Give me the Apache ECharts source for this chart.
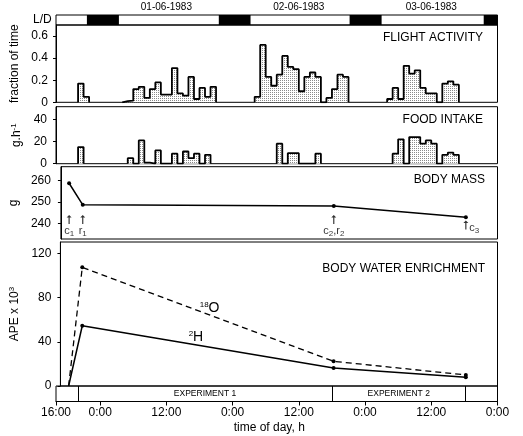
<!DOCTYPE html>
<html><head><meta charset="utf-8">
<script src="https://cdn.jsdelivr.net/npm/echarts@6/dist/echarts.min.js"></script>
<style>html,body{margin:0;padding:0;background:#fff}#c{width:523px;height:436px}</style>
</head><body><div id="c"></div>
<script>
const FONT = '"Liberation Sans", Arial, Helvetica, sans-serif';
// x = hours since 0:00 on 31-05-1983
const xTicks = [16, 24, 36, 48, 60, 72, 84, 96];
const dayTicks = [24, 48, 72];
const dayLabelPos = [36, 60, 84];
const dayLabels = ['01-06-1983', '02-06-1983', '03-06-1983'];
const darkPeriods = [[21.6, 27.4], [45.5, 51.25], [69.2, 75.0], [93.5, 96]];

const flightTicks = [0, 0.2, 0.4, 0.6];
const flightStarts = [20, 28, 52, 76];
const flightRuns = [
  [0.17, 0.05],
  [0.01, 0.015, 0.12, 0.14, 0.04, 0.12, 0.18, 0.07, 0.07, 0.31, 0.08, 0.06, 0.23, 0.03, 0.13, 0.05, 0.14],
  [0.05, 0.52, 0.23, 0.15, 0.25, 0.42, 0.32, 0.30, 0.10, 0.23, 0.27, 0.23, 0, 0.04, 0.12, 0.25, 0.23],
  [0.03, 0.13, 0.03, 0.33, 0.26, 0.29, 0.13, 0.08, 0.08, 0, 0.17, 0.19, 0.16]
];

const foodTicks = [0, 20, 40];
const foodStarts = [20, 29, 56, 77];
const foodRuns = [
  [15],
  [5, 0, 21, 1, 0, 12, 0, 0, 9, 0, 11, 5, 9, 0, 8],
  [18, 0, 9.5, 9.5, 0, 0, 0, 9],
  [9, 22, 0, 24, 24, 18, 21, 18, 0, 8, 10, 8]
];

const massTicks = [240, 250, 260];
const massTimes = [17.5, 20, 66, 90.2];
const massValues = [258.6, 248.6, 248, 242.8];
const massMarkLabels = ['c{s|1}', 'r{s|1}', 'c{s|2},r{s|2}', 'c{s|3}'];
const massMarkY = [241.8, 241.8, 241.8, 239.2];

const waterTicks = [0, 40, 80, 120];
const waterTimes = [17.5, 20, 66, 90.2];
const o18Values = [0, 107.3, 22.3, 10];
const h2Values = [0, 54.5, 16.3, 7.9];
const o18LabelPos = [43.3, 70.5];
const h2LabelPos = [40.8, 44.3];

const expBounds = [[20, 66], [66, 90.2]];
const expLabels = ['EXPERIMENT 1', 'EXPERIMENT 2'];

function stepData(starts, runs) {
  const d = [];
  starts.forEach((s, i) => {
    d.push([s, 0]);
    runs[i].forEach((v, j) => d.push([s + j, v]));
    d.push([s + runs[i].length, 0]);
    d.push([s + runs[i].length, '-']);
  });
  return d;
}

const pat = document.createElement('canvas');
pat.width = 2; pat.height = 2;
const pc = pat.getContext('2d');
pc.fillStyle = '#fff'; pc.fillRect(0, 0, 2, 2);
pc.fillStyle = '#8a8a8a'; pc.fillRect(0, 0, 1, 1);
const fillPattern = { image: pat, repeat: 'repeat' };

const L = 56, R = 25.5;
const gridBase = { left: L, right: R, show: true, borderColor: '#000', borderWidth: 1 };
const tops = [[15, 10], [25, 77.3], [106.7, 57], [166.7, 72.3], [242, 144], [386, 15.5]];
const grids = tops.map(t => Object.assign({}, gridBase, { top: t[0], height: t[1] }));

const txt = { fontFamily: FONT, color: '#000' };
const rich = {
  s: { fontSize: 8, fontFamily: FONT, color: '#000', verticalAlign: 'bottom', padding: [5, 0, 0, 0] },
  sup: { fontSize: 8, fontFamily: FONT, color: '#000', verticalAlign: 'top', padding: [0, 0, 5, 0] },
  b: { fontSize: 14, fontFamily: FONT, color: '#000' }
};

function hiddenX(i) {
  return { type: 'value', gridIndex: i, min: 16, max: 96, show: false };
}
function yAx(i, min, max, ticks, name, nameGap, margin) {
  return {
    type: 'value', gridIndex: i, min: min, max: max,
    axisLine: { show: true, lineStyle: { color: '#000', width: 1 } },
    axisTick: { show: true, length: 3, customValues: ticks, lineStyle: { color: '#000' } },
    axisLabel: { customValues: ticks, fontSize: 12, margin: margin, fontFamily: FONT, color: '#000' },
    splitLine: { show: false },
    name: name, nameLocation: 'middle', nameGap: nameGap,
    nameTextStyle: { fontSize: 12, fontFamily: FONT, color: '#000', rich: rich }
  };
}
const titleStyle = { fontSize: 12, fontWeight: 'normal', fontFamily: FONT, color: '#000', lineHeight: 12 };
function isoMark(pos, text) {
  return {
    silent: true, symbol: 'circle', symbolSize: 0, animation: false,
    itemStyle: { color: '#000', opacity: 1 },
    label: { show: true, position: 'inside', formatter: text, color: '#000', opacity: 1, fontSize: 14, fontFamily: FONT, rich: rich },
    data: [{ coord: pos }]
  };
}

const option = {
  animation: false,
  backgroundColor: '#fff',
  textStyle: txt,
  title: [
    { text: 'L/D', left: 33, top: 14, padding: 0, textStyle: titleStyle },
    { text: 'FLIGHT ACTIVITY', right: 40, top: 32, padding: 0, textStyle: titleStyle },
    { text: 'FOOD INTAKE', right: 40, top: 114, padding: 0, textStyle: titleStyle },
    { text: 'BODY MASS', right: 38, top: 174, padding: 0, textStyle: titleStyle },
    { text: 'BODY WATER ENRICHMENT', right: 38, top: 263, padding: 0, textStyle: titleStyle }
  ],
  grid: grids,
  xAxis: [
    {
      type: 'value', gridIndex: 0, min: 16, max: 96, position: 'top',
      axisLine: { show: false },
      axisTick: { show: true, length: 5, customValues: dayTicks, lineStyle: { color: '#000' } },
      axisLabel: {
        customValues: dayLabelPos, fontSize: 10, margin: 3, fontFamily: FONT, color: '#000',
        formatter: v => dayLabels[dayLabelPos.indexOf(v)] || ''
      },
      splitLine: { show: false }
    },
    hiddenX(1), hiddenX(2), hiddenX(3), hiddenX(4),
    {
      type: 'value', gridIndex: 5, min: 16, max: 96, position: 'bottom',
      axisLine: { show: true, lineStyle: { color: '#000', width: 1 } },
      axisTick: { show: true, length: 4, customValues: xTicks, lineStyle: { color: '#000' } },
      axisLabel: {
        customValues: xTicks, fontSize: 12, margin: 5, fontFamily: FONT, color: '#000',
        formatter: v => (v % 24) + ':00'
      },
      splitLine: { show: false },
      name: 'time of day, h', nameLocation: 'middle', nameGap: 20,
      nameTextStyle: { fontSize: 12, fontFamily: FONT, color: '#000', padding: [0, 15, 0, 0] }
    }
  ],
  yAxis: [
    { type: 'value', gridIndex: 0, min: 0, max: 1, show: false },
    yAx(1, 0, 0.7, flightTicks, 'fraction of time', 31, 8),
    yAx(2, 0, 51.35, foodTicks, 'g.h{sup|-1}', 28, 9),
    yAx(3, 232.7, 266.3, massTicks, 'g', 28, 10),
    yAx(4, 0, 130.2, waterTicks, 'APE x 10{sup|3}', 33, 9),
    { type: 'value', gridIndex: 5, min: 0, max: 1, show: false }
  ],
  series: [
    {
      type: 'line', xAxisIndex: 0, yAxisIndex: 0, data: [[16, 0.5], [96, 0.5]],
      symbol: 'none', lineStyle: { opacity: 0 }, silent: true,
      markArea: { silent: true, itemStyle: { color: '#000' }, data: darkPeriods.map(p => [{ xAxis: p[0] }, { xAxis: p[1] }]) }
    },
    {
      type: 'line', xAxisIndex: 1, yAxisIndex: 1, step: 'end', symbol: 'none',
      data: stepData(flightStarts, flightRuns),
      lineStyle: { color: '#000', width: 1.8 }, areaStyle: { color: fillPattern, opacity: 1 }
    },
    {
      type: 'line', xAxisIndex: 2, yAxisIndex: 2, step: 'end', symbol: 'none',
      data: stepData(foodStarts, foodRuns),
      lineStyle: { color: '#000', width: 1.8 }, areaStyle: { color: fillPattern, opacity: 1 }
    },
    {
      type: 'line', xAxisIndex: 3, yAxisIndex: 3, symbol: 'circle', symbolSize: 4,
      data: massTimes.map((t, i) => [t, massValues[i]]),
      lineStyle: { color: '#000', width: 1.5 }, itemStyle: { color: '#000' }
    },
    {
      type: 'scatter', xAxisIndex: 3, yAxisIndex: 3,
      symbol: 'path://M5 0 L8 4 L5.7 4 L5.7 14 L4.3 14 L4.3 4 L2 4 Z', symbolSize: [5, 9],
      itemStyle: { color: '#000' },
      data: massTimes.map((t, i) => ({
        value: [t, massMarkY[i]],
        label: {
          show: true, formatter: massMarkLabels[i],
          position: i === 3 ? 'right' : 'bottom', distance: 1,
          offset: i === 3 ? [0, 3] : [0, 0],
          fontSize: 11, fontFamily: FONT, color: '#000', rich: rich
        }
      }))
    },
    {
      type: 'line', xAxisIndex: 4, yAxisIndex: 4, symbol: 'circle', symbolSize: 4,
      data: waterTimes.map((t, i) => ({ value: [t, o18Values[i]], symbolSize: i === 0 ? 0 : 4 })),
      lineStyle: { color: '#000', width: 1.3, type: [6, 4] }, itemStyle: { color: '#000' },
      markPoint: isoMark(o18LabelPos, '{sup|18}{b|O}')
    },
    {
      type: 'line', xAxisIndex: 4, yAxisIndex: 4, symbol: 'circle', symbolSize: 4,
      data: waterTimes.map((t, i) => ({ value: [t, h2Values[i]], symbolSize: i === 0 ? 0 : 4 })),
      lineStyle: { color: '#000', width: 1.5 }, itemStyle: { color: '#000' },
      markPoint: isoMark(h2LabelPos, '{sup|2}{b|H}')
    },
    {
      type: 'line', xAxisIndex: 5, yAxisIndex: 5, data: [[16, 0.5], [96, 0.5]],
      symbol: 'none', lineStyle: { opacity: 0 }, silent: true,
      markLine: {
        silent: true, symbol: 'none', label: { show: false },
        lineStyle: { color: '#000', width: 1, type: 'solid' },
        data: [{ xAxis: expBounds[0][0] }, { xAxis: expBounds[0][1] }, { xAxis: expBounds[1][1] }]
      },
      markArea: {
        silent: true, itemStyle: { color: 'rgba(0,0,0,0)' },
        label: { show: true, position: 'inside', fontSize: 8.5, fontFamily: FONT, color: '#000' },
        data: expBounds.map((b, i) => [{ xAxis: b[0], name: expLabels[i] }, { xAxis: b[1] }])
      }
    }
  ]
};
const chart = echarts.init(document.getElementById('c'), null, { renderer: 'canvas' });
chart.setOption(option);
</script>
</body></html>
